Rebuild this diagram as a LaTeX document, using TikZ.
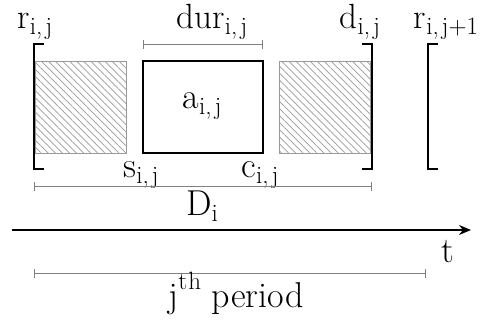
\documentclass[tikz,border=0pt]{standalone}
\usepackage{fontspec}
\usetikzlibrary{patterns.meta,arrows.meta}
\newcommand{\subsz}{\fontsize{25}{26}\selectfont}
\newcommand{\lb}[2]{#1\raisebox{-6pt}{\subsz #2}}
\newcommand{\cm}{,\hspace{3pt}}
\tikzset{
  hatchbox/.style={draw=gray!80, line width=0.8pt, minimum width=91pt, minimum height=92pt, inner sep=0pt,
    pattern={Lines[angle=-45,distance=5pt,line width=0.7pt]}, pattern color=gray!80},
  actbox/.style={draw, line width=1.6pt, minimum width=120pt, minimum height=92pt, inner sep=0pt},
  brk/.style={line width=2pt},
  span/.style={draw=gray, line width=0.9pt, {Bar[width=9pt,line width=0.9pt]}-{Bar[width=9pt,line width=0.9pt]}},
  lbl/.style={inner sep=0pt, anchor=base, font=\fontsize{36}{40}\selectfont},
  toplbl/.style={lbl, font=\fontsize{35}{40}\selectfont},
}
\begin{document}
\begin{tikzpicture}[x=1pt,y=-1pt]
\useasboundingbox (0,0) rectangle (484,324);
% boxes
\node[hatchbox] (h1) at (80.5,107) {};
\node[actbox] (a) at (203,107) {};
\node[lbl] (al) at (202,108) {\lb{a}{i\cm j}};
\node[hatchbox] (h2) at (325,107) {};
% brackets
\coordinate (b1t) at (34,44); \coordinate (b1b) at (34,169);
\draw[brk] ([xshift=10pt]b1t) -- (b1t) -- (b1b) -- ([xshift=10pt]b1b);
\coordinate (b2t) at (372,44); \coordinate (b2b) at (372,169);
\draw[brk] ([xshift=-10pt]b2t) -- (b2t) -- (b2b) -- ([xshift=-10pt]b2b);
\coordinate (b3t) at (428,44); \coordinate (b3b) at (428,169);
\draw[brk] ([xshift=10pt]b3t) -- (b3t) -- (b3b) -- ([xshift=10pt]b3b);
% top labels
\node[toplbl] (r) at (35,28) {\lb{r}{i\cm j}};
\node[toplbl] (dur) at (212,28) {\lb{dur}{i\cm j}};
\node[toplbl] (d) at (360,28) {\lb{d}{i\cm j}};
\node[toplbl] (r2) at (446,28) {\lb{r}{i\cm j+1}};
% dur span
\coordinate (du1) at (143,44); \coordinate (du2) at (263,44);
\draw[span] (du1) -- (du2);
% s, c
\node[lbl] (s) at (141,177) {\lb{s}{i\cm j}};
\node[lbl] (c) at (260,177) {\lb{c}{i\cm j}};
% D span
\coordinate (D1) at (34,186); \coordinate (D2) at (372,186);
\draw[span] (D1) -- (D2);
\node[lbl] (Dl) at (202,215) {\lb{D}{i}};
% axis
\coordinate (t0) at (12,230); \coordinate (t1) at (471,230);
\draw[line width=1.6pt, -{Stealth[length=12pt,width=10pt]}] (t0) -- (t1);
\node[lbl] (t) at (448,262) {t};
% period span
\coordinate (p1) at (34,273); \coordinate (p2) at (426,273);
\draw[span] (p1) -- (p2);
\node[lbl] (per) at (236,307) {j\raisebox{18pt}{\subsz t\hspace{1pt}h} period};
\end{tikzpicture}
\end{document}
